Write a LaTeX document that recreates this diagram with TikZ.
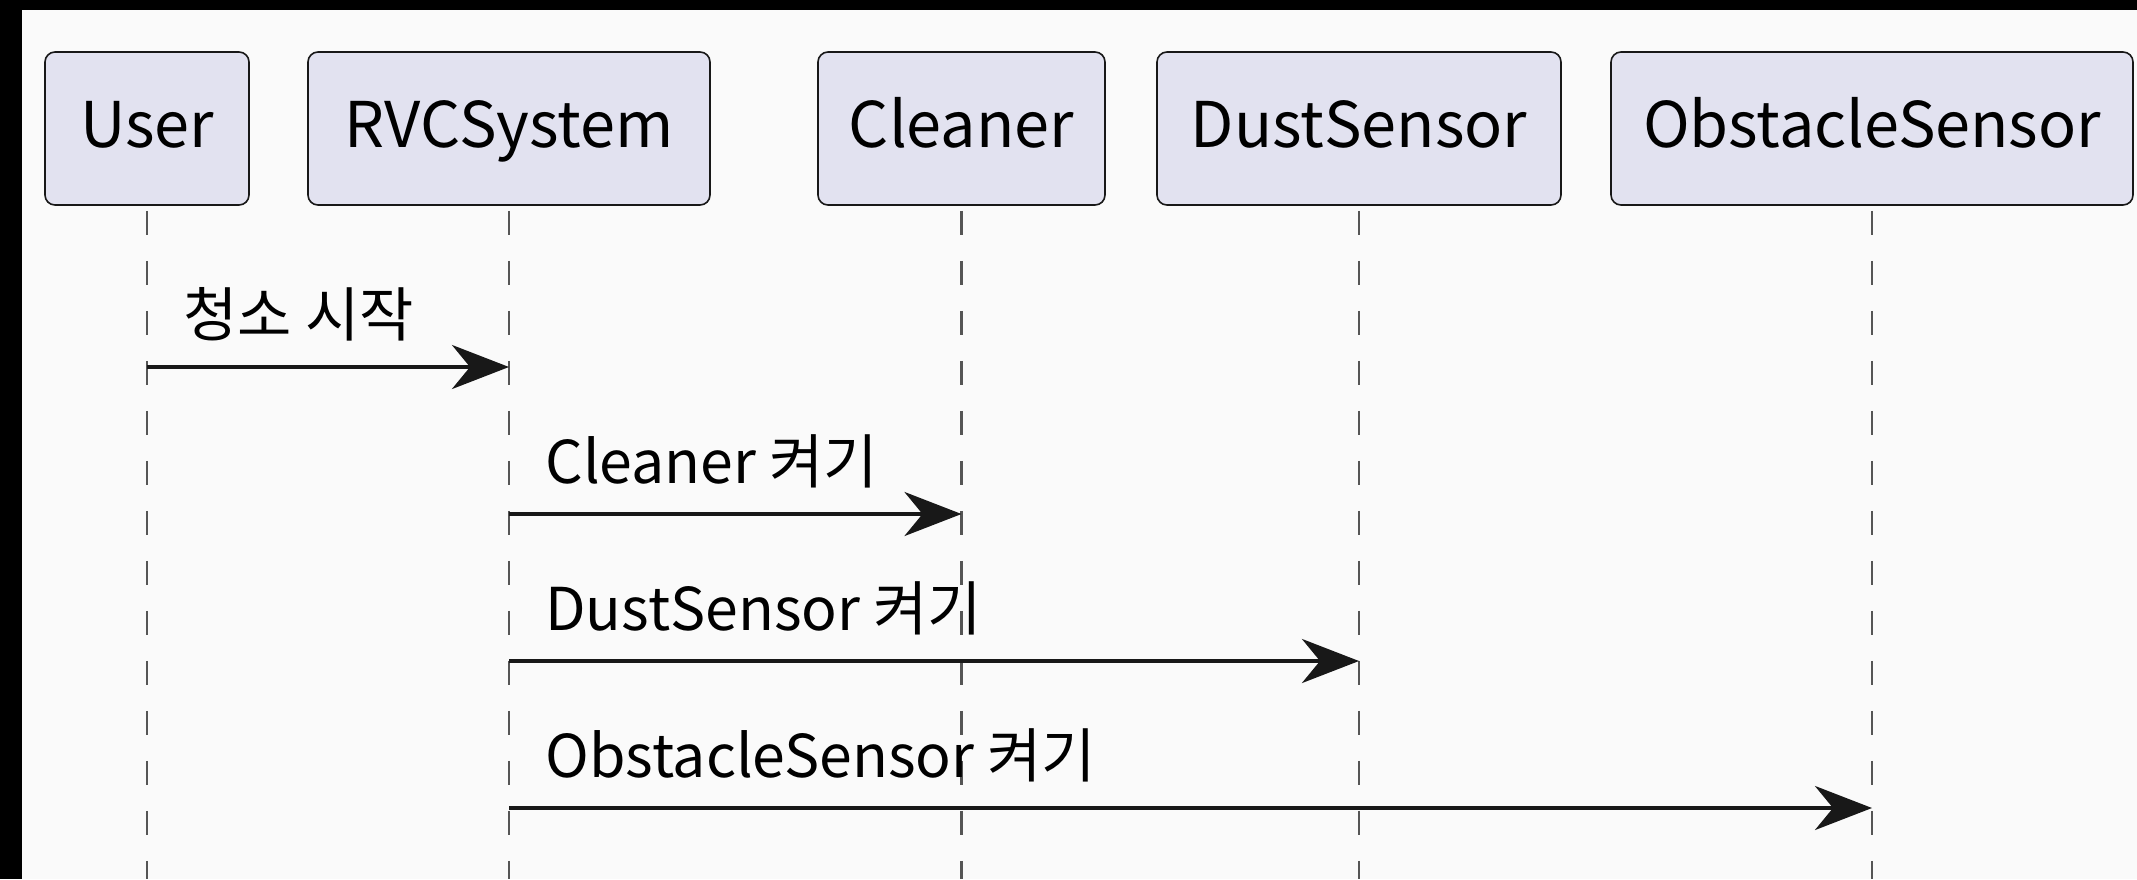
\documentclass[tikz,border=0pt]{standalone}
\usepackage{fontspec}
\setmainfont{Noto Sans CJK KR}
\usetikzlibrary{arrows.meta}
\definecolor{bgc}{HTML}{FAFAFA}
\definecolor{boxfill}{HTML}{E2E2F0}
\definecolor{boxline}{HTML}{181818}
\definecolor{lifec}{HTML}{555555}
\definecolor{msgc}{HTML}{181818}
\tikzset{
  participant/.style={draw=boxline, fill=boxfill, line width=0.8pt, rounded corners=5pt,
    minimum height=76.5pt, inner sep=0pt, text height=24pt, text depth=5.5pt,
    font=\fontsize{31.5}{34}\selectfont},
  lifeline/.style={draw=lifec, line width=1.4pt, dash pattern=on 12pt off 13pt},
  msg/.style={draw=msgc, line width=2pt, -{Stealth[length=28.5pt, width=22pt, inset=9pt]}},
  msglabel/.style={inner sep=0pt, anchor=base west, font=\fontsize{29.5}{32}\selectfont}
}
\begin{document}
\begin{tikzpicture}[x=0.5pt,y=-0.5pt]
\useasboundingbox (0,0) rectangle (2137,879);
\fill[black] (0,0) rectangle (2137,879);
\fill[bgc] (22,10) rectangle (2137,879);
\coordinate (bot) at (0,879);
\node[participant, minimum width=102pt] (u) at (147,128.5) {User};
\node[participant, minimum width=201pt] (r) at (509,128.5) {RVCSystem};
\node[participant, minimum width=143.5pt] (c) at (961.5,128.5) {Cleaner};
\node[participant, minimum width=202pt] (d) at (1359,128.5) {DustSensor};
\node[participant, minimum width=261pt] (o) at (1872,128.5) {ObstacleSensor};
\foreach \n in {u,r,c,d,o}{
  \draw[lifeline] ([yshift=-2.5pt]\n.south) -- (\n.south |- bot);
}
\node[msglabel] (l1) at ([xshift=18pt]u.south |- 0,336) {청소 시작};
\draw[msg] (u.south |- 0,367) -- (r.south |- 0,367);
\node[msglabel] (l2) at ([xshift=18pt]r.south |- 0,483) {Cleaner 켜기};
\draw[msg] (r.south |- 0,514) -- (c.south |- 0,514);
\node[msglabel] (l3) at ([xshift=18pt]r.south |- 0,630) {DustSensor 켜기};
\draw[msg] (r.south |- 0,661) -- (d.south |- 0,661);
\node[msglabel] (l4) at ([xshift=18pt]r.south |- 0,777) {ObstacleSensor 켜기};
\draw[msg] (r.south |- 0,808) -- (o.south |- 0,808);
\end{tikzpicture}
\end{document}
